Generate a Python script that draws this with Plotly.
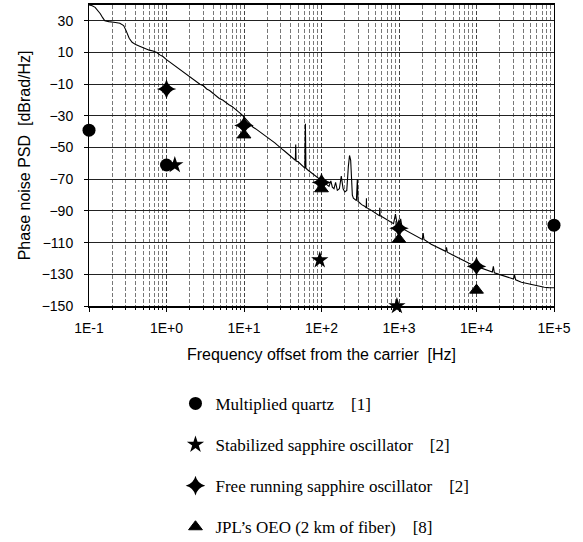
import plotly.graph_objects as go

# ---------------- data ----------------
curve_f = [0.1, 0.11, 0.12, 0.13, 0.14, 0.15, 0.16, 0.18, 0.2, 0.22, 0.25, 0.28, 0.3, 0.33, 0.36,
           0.4, 0.45, 0.5, 0.55, 0.6, 0.67, 0.75, 0.82, 0.9, 1.0, 1.1, 1.2, 1.35, 1.5, 1.65, 1.8,
           2.0, 2.2, 2.5, 2.7, 3.0, 3.3, 3.6, 4.0, 4.4, 4.8, 5.3, 5.8, 6.4, 7.0, 7.7, 8.5, 9.3,
           10, 11, 12, 13, 14.5, 16, 17.5, 19, 21, 23, 25, 27, 29, 31, 33, 35, 38, 41, 44, 46,
           46.5, 47, 50, 53, 56, 59, 61, 62, 63, 66, 70, 75, 80, 86, 92, 100, 108, 116, 125,
           132, 138, 145, 152, 160, 170, 180, 190, 200, 212, 222, 230, 238, 245, 250, 258, 270,
           282, 290, 296, 305, 330, 360, 378, 380, 382, 420, 470, 520, 560, 565, 570, 620, 700,
           780, 850, 900, 950, 1000, 1050, 1100, 1200, 1400, 1700, 2000, 2050, 2100, 2600, 3200,
           4000, 4100, 4200, 5000, 6500, 8000, 10000, 13000, 16000, 16500, 17000, 21000, 26000,
           30000, 31000, 32000, 38000, 46000, 55000, 65000, 75000, 85000, 100000]
curve_v = [40, 39.5, 38.5, 36.5, 34.5, 32, 30, 29.5, 29, 29, 28.5, 27, 24, 19, 16.5,
           15, 14, 13, 12, 11.5, 11, 10, 8.5, 7.5, 5.5, 4, 2.5, 1, -1, -2, -3.5,
           -5, -7, -8.5, -10, -11, -13, -14, -16, -17.5, -19, -20, -21.5, -23, -24, -26, -27.5, -29,
           -31, -33, -35, -37, -38.5, -40, -41, -42.5, -44, -45.5, -47, -48.5, -50, -51, -52, -53, -54.5, -55.5, -57, -58,
           -48, -58.5, -59, -60, -61, -62, -63, -35, -63, -64, -65, -66, -67, -68.5, -69.5, -71, -72, -73.5, -74.5,
           -71, -75, -76, -72, -77, -76, -68, -76, -78, -77, -62, -55, -58, -70, -80, -82, -83,
           -83.5, -70, -84, -84.5, -86, -87, -88, -82, -88, -89, -90.5, -92, -93, -88, -93, -94, -95.5,
           -97, -98, -92, -99, -100, -95, -101, -102, -104, -106, -108, -104, -108, -111, -113,
           -115.5, -113, -116, -118, -121, -123, -125, -127, -128.5, -125, -129, -130.5, -132,
           -133, -130.5, -133.5, -135, -136, -137, -137.8, -138.2, -138.4, -138.5]

quartz_f = [0.1, 1, 100000]
quartz_v = [-39, -61, -99]

stab_f = [1.28, 95, 940]
stab_v = [-61, -121, -150]

free_f = [1, 10, 100, 1000, 10000]
free_v = [-13, -36, -72, -101, -125]

oeo_f = [10, 100, 1000, 10000]
oeo_v = [-42, -76, -108, -140]

x_tickvals = [0.1, 1, 10, 100, 1000, 10000, 100000]
x_ticktext = ["1E-1", "1E+0", "1E+1", "1E+2", "1E+3", "1E+4", "1E+5"]
y_tickvals = [30, 10, -10, -30, -50, -70, -90, -110, -130, -150]

sp = "\u00a0" * 4
legend_names = ["Multiplied quartz" + sp + "[1]",
                "Stabilized sapphire oscillator" + sp + "[2]",
                "Free running sapphire oscillator" + sp + "[2]",
                "JPL\u2019s OEO (2 km of fiber)" + sp + "[8]"]
y_title = "Phase noise PSD\u00a0\u00a0[dBrad/Hz]"
x_title = "Frequency offset from the carrier\u00a0\u00a0[Hz]"

# ---------------- figure ----------------
fig = go.Figure()

fig.add_trace(go.Scatter(x=curve_f, y=curve_v, mode="lines",
                         line=dict(color="black", width=1.1), showlegend=False,
                         hoverinfo="skip"))

fig.add_trace(go.Scatter(x=quartz_f, y=quartz_v, mode="markers", name=legend_names[0],
                         legendgroup="a", cliponaxis=False,
                         marker=dict(symbol="circle", size=13, color="black")))
fig.add_trace(go.Scatter(x=stab_f, y=stab_v, mode="markers", name=legend_names[1],
                         legendgroup="b", cliponaxis=False,
                         marker=dict(symbol="star", size=13, color="black")))
fig.add_trace(go.Scatter(x=free_f, y=free_v, mode="markers", name=legend_names[2],
                         legendgroup="c", cliponaxis=False,
                         marker=dict(symbol="star-diamond", size=14, color="black")))
fig.add_trace(go.Scatter(x=oeo_f, y=oeo_v, mode="markers", name=legend_names[3],
                         legendgroup="d", cliponaxis=False,
                         marker=dict(symbol="triangle-up", size=12, color="black",
                                     line=dict(color="black", width=1))))

fig.update_layout(
    width=583, height=542,
    margin=dict(l=89, r=29, t=5, b=236, autoexpand=False),
    paper_bgcolor="white", plot_bgcolor="white",
    font=dict(family="Liberation Sans, Arial, sans-serif", color="black", size=14),
    showlegend=True,
    legend=dict(xref="container", yref="container", x=0.301, y=0.288,
                xanchor="left", yanchor="top",
                font=dict(family="Liberation Serif, Times New Roman, serif", size=17, color="black"),
                tracegroupgap=16, bgcolor="rgba(0,0,0,0)", itemsizing="trace"),
    annotations=[dict(text=y_title, textangle=-90, xref="paper", yref="paper",
                      x=-0.138, y=0.5, xanchor="center", yanchor="middle",
                      showarrow=False, font=dict(size=16, color="black"))],
)

fig.update_xaxes(
    type="log", range=[-1, 5],
    tickvals=x_tickvals, ticktext=x_ticktext,
    tickfont=dict(size=14),
    ticks="outside", ticklen=4, tickcolor="black",
    ticklabelstandoff=4,
    showline=True, linecolor="black", linewidth=1.5, mirror=True,
    showgrid=True, gridcolor="#444", gridwidth=1, griddash="4px,2px",
    minor=dict(dtick="D1", showgrid=True, gridcolor="#777", gridwidth=1, griddash="4px,2px",
               ticks="outside", ticklen=2, tickcolor="black"),
    title=dict(text=x_title, font=dict(size=16), standoff=14),
    zeroline=False,
)

fig.update_yaxes(
    range=[-150, 40],
    tickvals=y_tickvals,
    tickfont=dict(size=14),
    ticks="outside", ticklen=4, tickcolor="black",
    ticklabelstandoff=8,
    showline=True, linecolor="black", linewidth=1, mirror=True,
    showgrid=True, gridcolor="#222", gridwidth=1,
    zeroline=False,
)

fig.write_html("out.html")
